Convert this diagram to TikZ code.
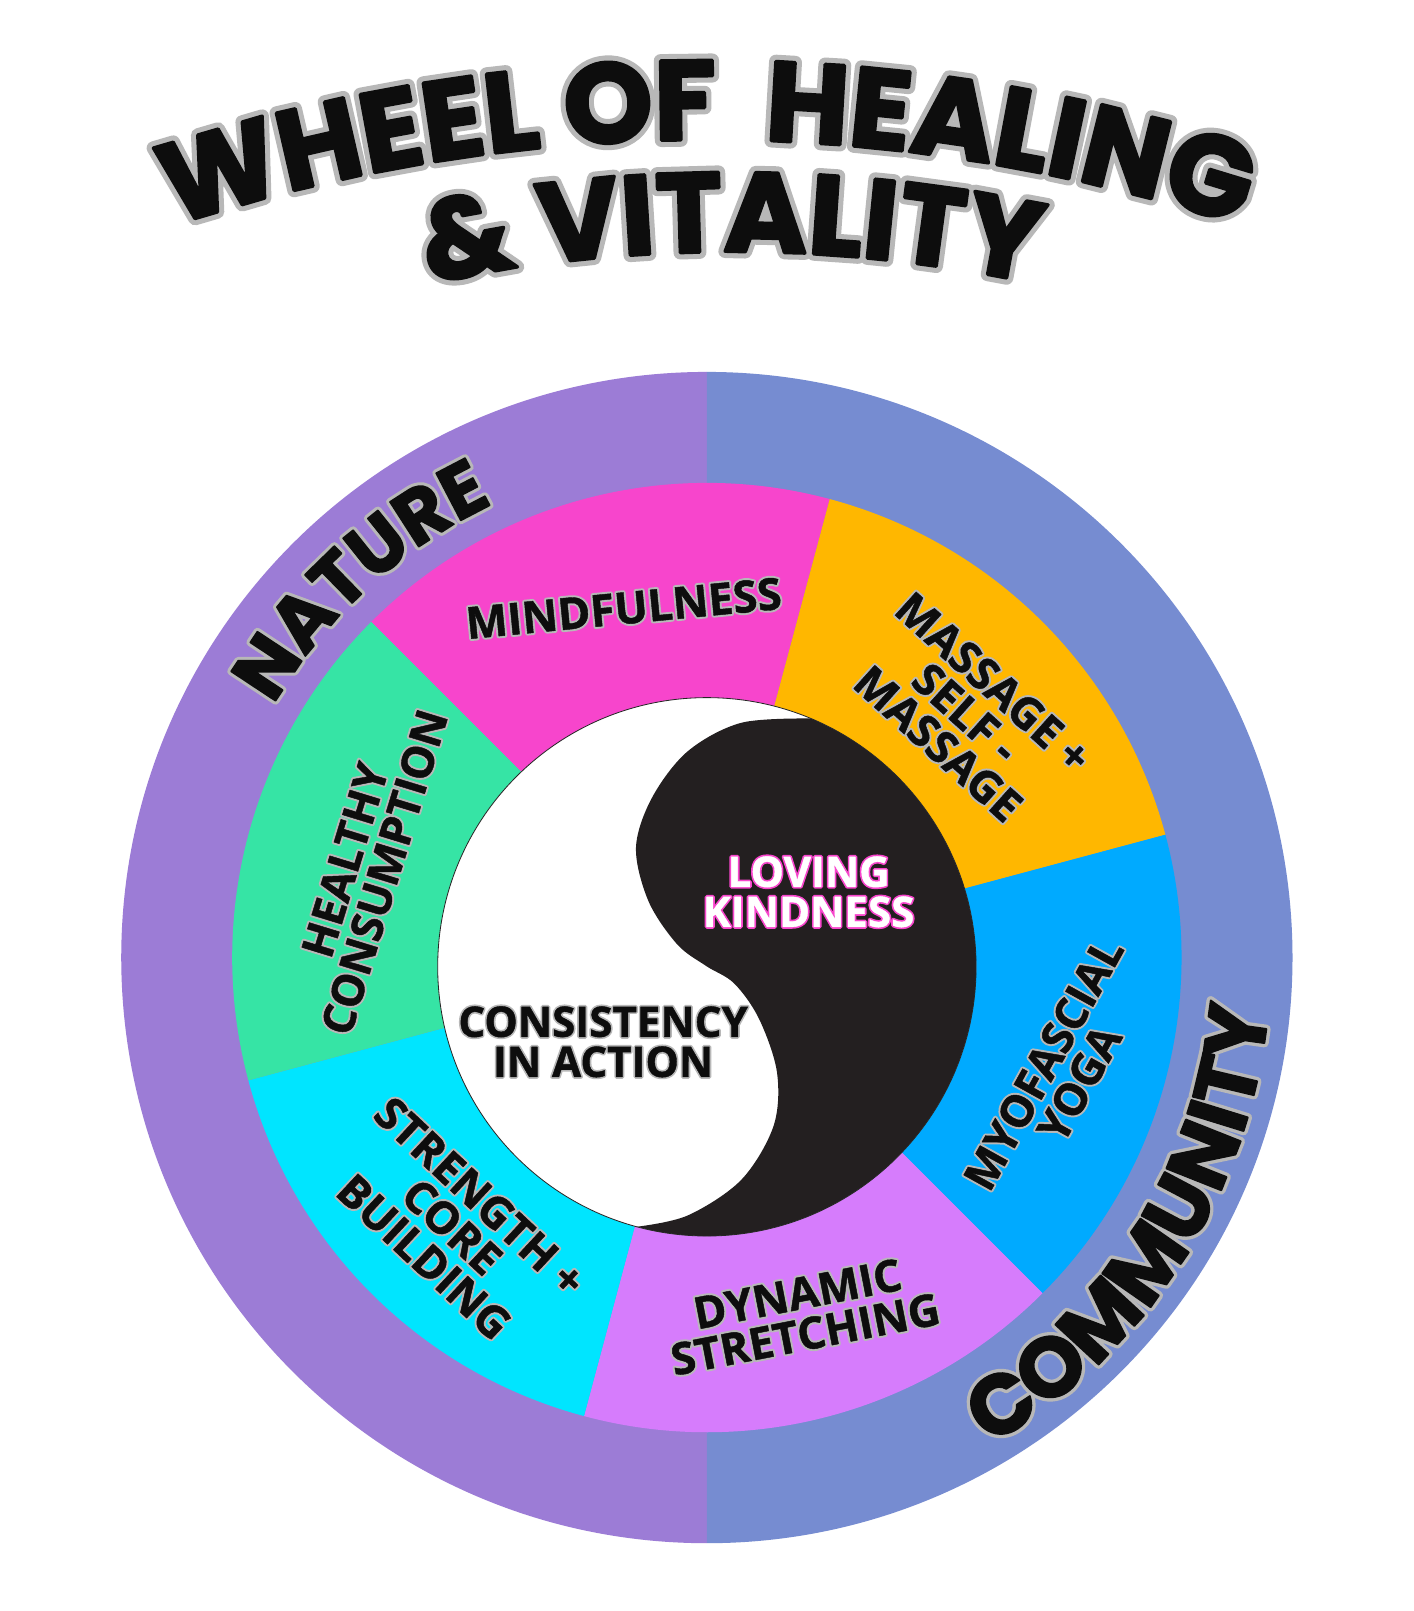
\documentclass[tikz,border=0pt]{standalone}
\usepackage{fontspec}
\newfontfamily\popf{Poppins}
\newfontfamily\osf{Open Sans}
\definecolor{ringL}{HTML}{9C7CD6}
\definecolor{ringR}{HTML}{768CD1}
\definecolor{cMind}{HTML}{F745CC}
\definecolor{cMass}{HTML}{FFB700}
\definecolor{cMyo}{HTML}{00AAFF}
\definecolor{cDyn}{HTML}{D67CFC}
\definecolor{cStr}{HTML}{00E5FF}
\definecolor{cHea}{HTML}{36E4A5}
\definecolor{yyblack}{HTML}{231F20}
\definecolor{ink}{HTML}{0D0D0D}
\definecolor{outl}{HTML}{B8B8B8}
\newcommand\ttlout{\popf\bfseries\fontsize{110}{110}\selectfont\addfontfeatures{FakeBold=12}}
\newcommand\ttlin{\popf\bfseries\fontsize{110}{110}\selectfont\addfontfeatures{FakeBold=3}}
\newcommand\ringout{\popf\bfseries\fontsize{74}{74}\selectfont\addfontfeatures{FakeBold=10}}
\newcommand\ringin{\popf\bfseries\fontsize{74}{74}\selectfont\addfontfeatures{FakeBold=2}}
\newcommand\commout{\popf\bfseries\fontsize{82}{82}\selectfont\addfontfeatures{FakeBold=10}}
\newcommand\commin{\popf\bfseries\fontsize{82}{82}\selectfont\addfontfeatures{FakeBold=2}}
\tikzset{
  lblbase/.style={align=center, inner sep=0pt},
  lblout/.style={lblbase, text=outl, font=\osf\bfseries\fontsize{43}{40}\selectfont\addfontfeatures{FakeBold=10}},
  lblin/.style={lblbase, text=ink, font=\osf\bfseries\fontsize{43}{40}\selectfont\addfontfeatures{FakeBold=1}},
  ctrout/.style={lblbase, font=\osf\bfseries\fontsize{41}{39}\selectfont\addfontfeatures{FakeBold=9}},
  ctrin/.style={lblbase, font=\osf\bfseries\fontsize{41}{39}\selectfont\addfontfeatures{FakeBold=1}},
  arcchar/.style={inner sep=0pt, anchor=base},
}
\newcommand\seglabel[4]{%
  \node[lblout, rotate=#3] at (#2) {#4};
  \node[lblin, rotate=#3] (#1) at (#2) {#4};
}
\newdimen\arcw
\newdimen\arctot
\newdimen\arccum
% measure character widths outside the picture (fonts are live there)
\newcommand\measure[3]{%
  \global\arctot=0pt
  \foreach \cc [count=\ci] in {#3}{%
    \settowidth{\arcw}{#2\cc}%
    \expandafter\xdef\csname aw#1\ci\endcsname{\the\arcw}%
    \global\advance\arctot by \arcw}%
  \expandafter\xdef\csname at#1\endcsname{\the\arctot}%
}
\AtBeginDocument{%
  \measure{A}{\ttlin}{W,H,E,E,L,\ ,O,F,\ ,\ ,H,E,A,L,I,N,G}%
  \measure{B}{\ttlin}{\&,\ ,V,I,T,A,L,I,T,Y}%
  \measure{N}{\ringin}{N,A,T,U,R,E}%
  \measure{C}{\commin}{C,O,M,M,U,N,I,T,Y}%
}
% #1 key, #2 centre, #3 radius, #4 centre angle, #5 direction (1 cw, -1 ccw), #6 font, #7 colour, #8 characters
\newcommand\arctext[8]{%
  \global\arctot=\csname at#1\endcsname\relax
  \global\arccum=0pt
  \foreach \ch [count=\ci] in {#8}{%
    \arcw=\csname aw#1\ci\endcsname\relax
    \pgfmathsetmacro\arcang{#4-(#5)*(\the\arccum+0.5*\the\arcw-0.5*\the\arctot)/(#3)*180/pi}%
    \pgfmathsetmacro\arcrot{\arcang-(#5)*90}%
    \node[arcchar, text=#7, font={#6}, rotate=\arcrot] at ([shift={(\arcang:#3)}]#2) {\ch};%
    \global\advance\arccum by \arcw
  }%
}
\begin{document}
\begin{tikzpicture}[x=1pt,y=1pt]
\fill[white] (0,0) rectangle (1376,-1568);
\useasboundingbox (0,0) rectangle (1376,-1568);
\coordinate (O) at (688,-932);
\coordinate (YY) at (688,-941);
\coordinate (C1) at (688,-1786);
\coordinate (C2) at (712,-1665);
% outer ring
\fill[ringL] (O) ++(90:570) arc[start angle=90, end angle=270, radius=570] -- cycle;
\fill[ringR] (O) ++(90:570) arc[start angle=90, end angle=-90, radius=570] -- cycle;
% sectors
\fill[cMind] (O) -- ++(75:462) arc[start angle=75, end angle=135, radius=462] -- cycle;
\fill[cMass] (O) -- ++(15:462) arc[start angle=15, end angle=75, radius=462] -- cycle;
\fill[cMyo] (O) -- ++(-45:462) arc[start angle=-45, end angle=15, radius=462] -- cycle;
\fill[cDyn] (O) -- ++(-105:462) arc[start angle=-105, end angle=-45, radius=462] -- cycle;
\fill[cStr] (O) -- ++(195:462) arc[start angle=195, end angle=255, radius=462] -- cycle;
\fill[cHea] (O) -- ++(135:462) arc[start angle=135, end angle=195, radius=462] -- cycle;
% yin-yang
\begin{scope}[shift={(YY)}]
\fill[white] (0,0) circle[radius=262];
\fill[yyblack] (67.3:262) arc[start angle=67.3, end angle=-105.1, radius=262]
  -- plot[smooth, tension=0.55] coordinates {(-68.3,-253) (-18.6,-242) (33.5,-207.3) (64.8,-155.2) (68.3,-103.1) (50.9,-50.9) (26.6,-16.2) (-1,1) (-29,22) (-56.8,63.8) (-69,115.9) (-53.4,164.6) (-18.6,209.8) (33.5,237.5) (101.1,241.7)} -- cycle;
\draw[black!85, line width=0.8] (0,0) circle[radius=262];
\end{scope}
\begin{scope}[line join=round]
% segment labels
\seglabel{mind}{607,-592}{5.5}{MINDFULNESS}
\seglabel{mass}{940,-694}{-42}{MASSAGE +\\SELF -\\MASSAGE}
\seglabel{myo}{1033,-1045}{61}{MYOFASCIAL\\YOGA}
\seglabel{dyn}{780,-1279}{11}{DYNAMIC\\STRETCHING}
\seglabel{str}{440,-1194}{-43}{STRENGTH +\\CORE\\BUILDING}
\seglabel{hea}{355,-843}{73}{HEALTHY\\CONSUMPTION}
% centre labels
\node[ctrout, text=cMind] at (787,-868) {LOVING\\KINDNESS};
\node[ctrin, text=white] (love) at (787,-868) {LOVING\\KINDNESS};
\node[ctrout, text=outl] at (587,-1014) {CONSISTENCY\\IN ACTION};
\node[ctrin, text=ink] (cons) at (587,-1014) {CONSISTENCY\\IN ACTION};
% ring labels
\arctext{N}{O}{488}{132.5}{1}{\ringout}{outl}{N,A,T,U,R,E}
\arctext{N}{O}{488}{132.5}{1}{\ringin}{ink}{N,A,T,U,R,E}
\arctext{C}{O}{549}{-32.5}{-1}{\commout}{outl}{C,O,M,M,U,N,I,T,Y}
\arctext{C}{O}{549}{-32.5}{-1}{\commin}{ink}{C,O,M,M,U,N,I,T,Y}
% title
\arctext{A}{C1}{1650}{90}{1}{\ttlout}{outl}{W,H,E,E,L,\ ,O,F,\ ,\ ,H,E,A,L,I,N,G}
\arctext{A}{C1}{1650}{90}{1}{\ttlin}{ink}{W,H,E,E,L,\ ,O,F,\ ,\ ,H,E,A,L,I,N,G}
\arctext{B}{C2}{1420}{90}{1}{\ttlout}{outl}{\&,\ ,V,I,T,A,L,I,T,Y}
\arctext{B}{C2}{1420}{90}{1}{\ttlin}{ink}{\&,\ ,V,I,T,A,L,I,T,Y}
\end{scope}
\end{tikzpicture}
\end{document}
